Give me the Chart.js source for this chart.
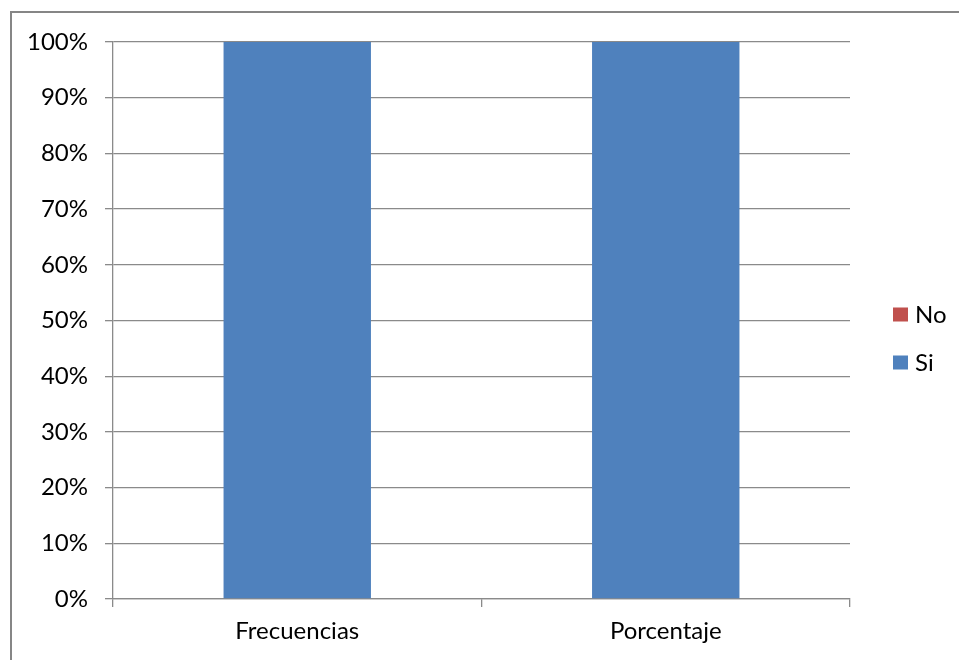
<!DOCTYPE html>
<html>
<head>
<meta charset="utf-8">
<script src="https://cdn.jsdelivr.net/npm/chart.js@4/dist/chart.umd.min.js"></script>
<style>
  html, body { margin: 0; padding: 0; background: #fff; overflow: hidden; }
  #wrap { position: relative; width: 959px; height: 660px; }
  #frame { position: absolute; left: 10px; top: 11px; width: 1000px; height: 700px;
           border: 2px solid #868686; box-sizing: border-box; }
  canvas { position: absolute; left: 0; top: 0; }
</style>
</head>
<body>
<div id="wrap">
  <div id="frame"></div>
  <canvas id="c" width="959" height="660"></canvas>
</div>
<script>
// Categories and shares (percent) per answer
const categories = ['Frecuencias', 'Porcentaje'];
const siValues = [100, 100];
const noValues = [0, 0];
const seriesNames = ['Si', 'No'];
const seriesColors = ['#4F81BD', '#C0504D'];

const FONT = "Lato, 'Liberation Sans', sans-serif";
const TEXT = '#000000';
const GRID = '#8a8a8a';

// Legend drawn at the right of the plot, top entry = last series
const sideLegend = {
  id: 'sideLegend',
  afterDraw(chart) {
    const { ctx, chartArea } = chart;
    const ds = chart.data.datasets.slice().reverse();
    const boxX = chartArea.right + 43;
    const mid = (chartArea.top + chartArea.bottom) / 2;
    ctx.save();
    ctx.font = '24px ' + FONT;
    ctx.textBaseline = 'alphabetic';
    ctx.textAlign = 'left';
    ds.forEach((d, i) => {
      const cy = mid - 6 + i * 48;
      ctx.fillStyle = d.backgroundColor;
      ctx.fillRect(boxX, cy - 7, 15, 14);
      ctx.fillStyle = TEXT;
      ctx.fillText(d.label, boxX + 22, cy + 8);
    });
    ctx.restore();
  }
};

new Chart(document.getElementById('c'), {
  type: 'bar',
  data: {
    labels: categories,
    datasets: [
      { label: seriesNames[0], data: siValues, backgroundColor: seriesColors[0] },
      { label: seriesNames[1], data: noValues, backgroundColor: seriesColors[1] }
    ]
  },
  options: {
    responsive: false,
    animation: false,
    devicePixelRatio: 1,
    layout: { padding: { top: 42, right: 109, bottom: 1, left: 0 } },
    datasets: { bar: { categoryPercentage: 1, barPercentage: 0.4, borderWidth: 0 } },
    plugins: { legend: { display: false }, tooltip: { enabled: false } },
    scales: {
      x: {
        stacked: true,
        offset: true,
        grid: { offset: true, drawOnChartArea: false, drawTicks: true, tickLength: 8, color: GRID, lineWidth: 1.3 },
        border: { display: true, color: GRID, width: 1.3 },
        ticks: { color: TEXT, font: { family: FONT, size: 24 }, padding: 10, maxRotation: 0 },
        afterFit(scale) { scale.height = 60; }
      },
      y: {
        stacked: true,
        min: 0,
        max: 100,
        grid: { color: GRID, lineWidth: 1.3, tickLength: 8 },
        border: { display: true, color: GRID, width: 1.3 },
        ticks: {
          stepSize: 10,
          color: TEXT,
          font: { family: FONT, size: 24 },
          padding: 17,
          callback: v => v + '%'
        },
        afterFit(scale) { scale.width = 113; }
      }
    }
  },
  plugins: [sideLegend]
});
</script>
</body>
</html>
